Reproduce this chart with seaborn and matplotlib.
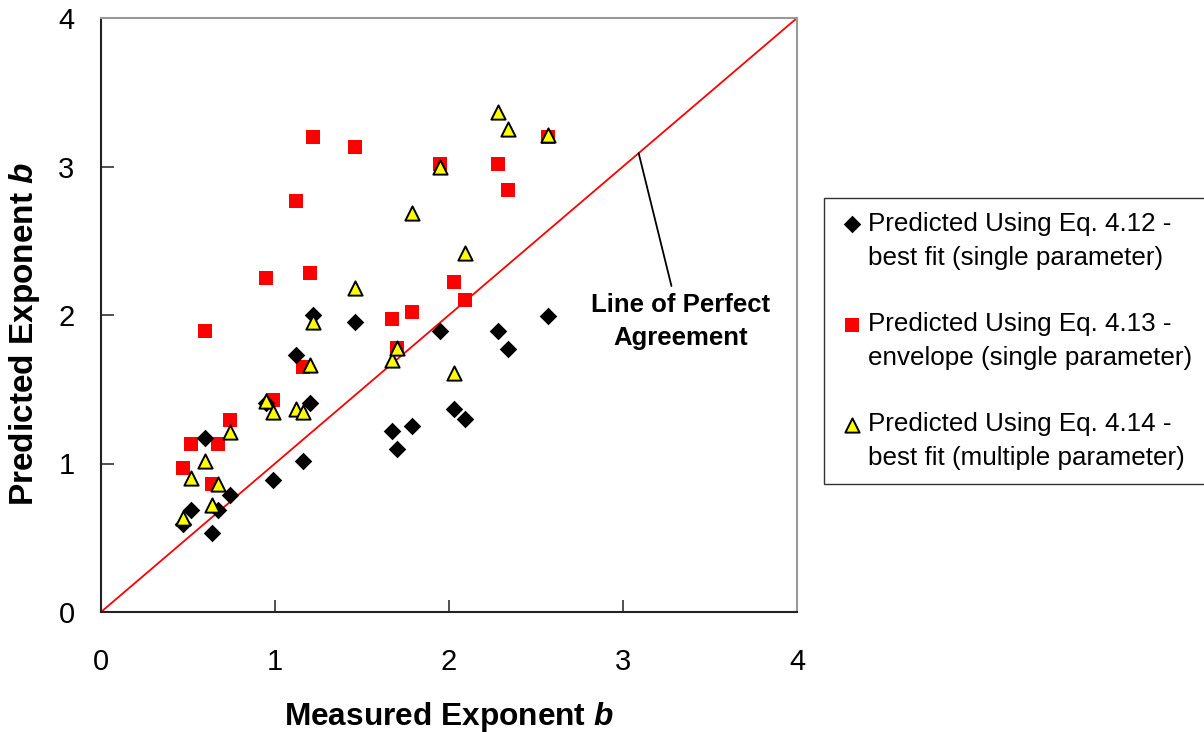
import matplotlib
matplotlib.use("Agg")
import matplotlib.pyplot as plt
from matplotlib.lines import Line2D
import seaborn as sns
import pandas as pd

measured = [0.47, 0.52, 0.60, 0.64, 0.67, 0.74, 0.95, 0.99, 1.12, 1.16, 1.20,
            1.22, 1.46, 1.67, 1.70, 1.79, 1.95, 2.03, 2.09, 2.28, 2.34, 2.57]
pred_412 = [0.59, 0.69, 1.17, 0.53, 0.69, 0.79, 1.41, 0.89, 1.73, 1.02, 1.41,
            2.00, 1.95, 1.22, 1.10, 1.25, 1.89, 1.37, 1.30, 1.89, 1.77, 1.99]
pred_413 = [0.97, 1.13, 1.89, 0.86, 1.13, 1.29, 2.25, 1.43, 2.77, 1.65, 2.28,
            3.20, 3.13, 1.97, 1.78, 2.02, 3.02, 2.22, 2.10, 3.02, 2.84, 3.20]
pred_414 = [0.63, 0.90, 1.02, 0.72, 0.86, 1.21, 1.42, 1.35, 1.37, 1.35, 1.66,
            1.95, 2.18, 1.70, 1.78, 2.69, 3.00, 1.61, 2.42, 3.37, 3.25, 3.21]
label_line1 = ["Predicted Using Eq. 4.12 -",
               "Predicted Using Eq. 4.13 -",
               "Predicted Using Eq. 4.14 -"]
label_line2 = ["best fit (single parameter)",
               "envelope (single parameter)",
               "best fit (multiple parameter)"]
ticks = [0, 1, 2, 3, 4]

sns.set_theme(style="white")
plt.rcParams['font.family'] = ['Liberation Sans', 'DejaVu Sans']
plt.rcParams['text.color'] = 'black'
plt.rcParams['axes.labelcolor'] = 'black'
plt.rcParams['mathtext.fontset'] = 'custom'
plt.rcParams['mathtext.bfit'] = 'Liberation Sans:bold:italic'
plt.rcParams['mathtext.it'] = 'Liberation Sans:italic'
plt.rcParams['mathtext.bf'] = 'Liberation Sans:bold'
plt.rcParams['mathtext.rm'] = 'Liberation Sans'

fig = plt.figure(figsize=(12.04, 7.32), dpi=100)
ax = fig.add_axes([101/1204, 1-612/732, (797-101)/1204, (612-18)/732])

ax.plot([ticks[0], ticks[-1]], [ticks[0], ticks[-1]], color='#ff0000', lw=1.3, zorder=1)

df = pd.DataFrame({'x': measured, 'a': pred_412, 'b': pred_413, 'c': pred_414})
sns.scatterplot(data=df, x='x', y='a', ax=ax, marker='D', s=80, color='black',
                edgecolor='black', linewidth=0, label=label_line1[0], zorder=3)
sns.scatterplot(data=df, x='x', y='b', ax=ax, marker='s', s=95, color='#ff0000',
                edgecolor='#ff0000', linewidth=0, label=label_line1[1], zorder=2)
sns.scatterplot(data=df, x='x', y='c', ax=ax, marker='^', s=105, color='#ffff00',
                edgecolor='black', linewidth=1.4, label=label_line1[2], zorder=4)

ax.set_xlim(ticks[0], ticks[-1])
ax.set_ylim(ticks[0], ticks[-1])
ax.set_xticks(ticks)
ax.set_yticks(ticks)
ax.tick_params(axis='both', direction='in', length=9, width=1.2, colors='#333333',
               labelsize=21, labelcolor='black', bottom=True, left=True)
ax.tick_params(axis='x', pad=26)
ax.tick_params(axis='y', pad=19)
for side in ['left', 'bottom']:
    ax.spines[side].set_color('#222222')
    ax.spines[side].set_linewidth(1.5)
for side in ['top', 'right']:
    ax.spines[side].set_color('#999999')
    ax.spines[side].set_linewidth(1.5)

ax.set_xlabel(r"Measured Exponent $\mathbfit{b}$", fontsize=22.8, fontweight='bold', labelpad=17)
ax.set_ylabel(r"Predicted Exponent $\mathbfit{b}$", fontsize=24, fontweight='bold')
ax.yaxis.set_label_coords((42-101)/696, (612-334)/594)

ax.annotate("Line of Perfect\nAgreement", xy=(3.09, 3.09), xytext=(3.33, 1.955),
            ha='center', va='center', fontsize=18.5, fontweight='bold', linespacing=1.5,
            arrowprops=dict(arrowstyle='-', color='black', lw=1.3,
                            shrinkA=0, shrinkB=0, relpos=(0.45, 1.12)))

ax.get_legend().remove()
handles, _ = ax.get_legend_handles_labels()
blank = Line2D([], [], color='none', marker=None, linestyle='none')
leg_handles, leg_labels = [], []
for i, h in enumerate(handles):
    leg_handles += [h, blank]
    leg_labels += [label_line1[i], label_line2[i]]
    if i < len(handles) - 1:
        leg_handles.append(blank)
        leg_labels.append(" ")
leg = fig.legend(leg_handles, leg_labels, loc='upper left',
                 bbox_to_anchor=(824/1204, 1-198/732),
                 fontsize=18.7, frameon=True, fancybox=False, edgecolor='black',
                 borderpad=0.55, labelspacing=0.36, handletextpad=0.12,
                 handlelength=1.04, borderaxespad=0, markerscale=1.0)
leg.get_frame().set_linewidth(1.0)

fig.savefig("out.png", dpi=100)
